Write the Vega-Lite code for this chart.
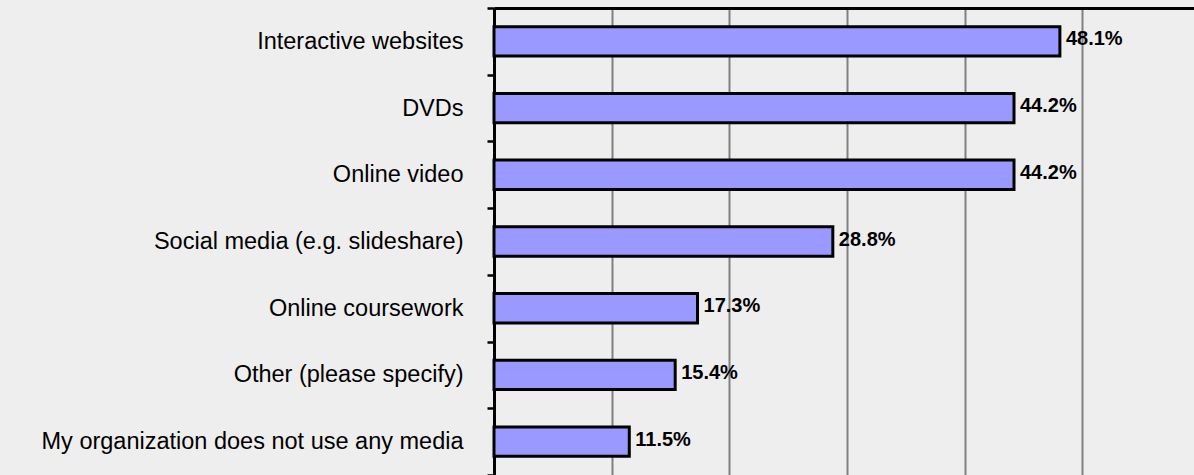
{
  "$schema": "https://vega.github.io/schema/vega-lite/v6.json",
  "width": 700,
  "height": 467,
  "autosize": {"type": "none"},
  "padding": {"left": 494, "top": 8, "right": 0, "bottom": 0},
  "background": "#eeeeee",
  "config": {"view": {"stroke": null}, "font": "Liberation Sans"},
  "data": {
    "values": [
      {"category": "Interactive websites", "value": 48.1, "label": "48.1%"},
      {"category": "DVDs", "value": 44.2, "label": "44.2%"},
      {"category": "Online video", "value": 44.2, "label": "44.2%"},
      {"category": "Social media (e.g. slideshare)", "value": 28.8, "label": "28.8%"},
      {"category": "Online coursework", "value": 17.3, "label": "17.3%"},
      {"category": "Other (please specify)", "value": 15.4, "label": "15.4%"},
      {"category": "My organization does not use any media", "value": 11.5, "label": "11.5%"}
    ]
  },
  "encoding": {
    "y": {
      "field": "category",
      "type": "nominal",
      "sort": null,
      "scale": {"paddingInner": 0, "paddingOuter": 0},
      "axis": {
        "title": null,
        "orient": "left",
        "domainColor": "#000000",
        "domainWidth": 3,
        "tickColor": "#000000",
        "tickWidth": 2.5,
        "tickSize": 7,
        "tickBand": "extent",
        "labelFontSize": 23.5,
        "labelColor": "#000000",
        "labelPadding": 24,
        "labelLimit": 0,
        "grid": false
      }
    },
    "x": {
      "field": "value",
      "type": "quantitative",
      "scale": {"domain": [0, 59.5], "nice": false},
      "axis": {
        "title": null,
        "orient": "top",
        "values": [0, 10, 20, 30, 40, 50],
        "domainColor": "#000000",
        "domainWidth": 3,
        "ticks": false,
        "labels": false,
        "grid": true,
        "gridColor": "#808080",
        "gridWidth": 2
      }
    }
  },
  "layer": [
    {
      "mark": {
        "type": "bar",
        "fill": "#9999ff",
        "stroke": "#000000",
        "strokeWidth": 3,
        "height": {"band": 0.44}
      }
    },
    {
      "mark": {
        "type": "text",
        "align": "left",
        "baseline": "middle",
        "dx": 6,
        "dy": -2,
        "fontWeight": "bold",
        "fontSize": 20,
        "color": "#000000"
      },
      "encoding": {"text": {"field": "label"}}
    }
  ]
}
